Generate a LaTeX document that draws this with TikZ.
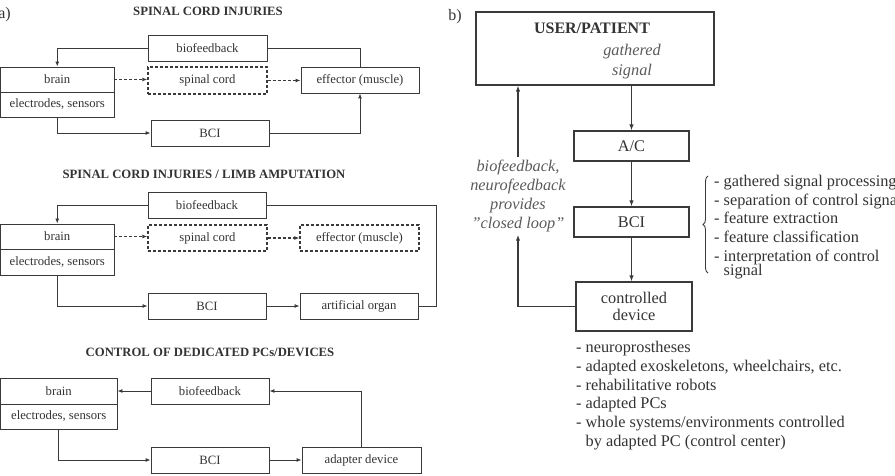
\documentclass[tikz,border=0pt]{standalone}
\usepackage{fontspec}
\setmainfont{Liberation Serif}
\usetikzlibrary{arrows.meta,decorations.pathreplacing}
\definecolor{ink}{HTML}{333333}
\definecolor{ln}{HTML}{3A3A3A}
\definecolor{itg}{HTML}{5A5A5A}
\tikzset{
  abox/.style={draw=ln, line width=0.9pt, inner sep=0pt, text=ink, font=\fontsize{12.7}{14}\selectfont},
  dbox/.style={abox, dash pattern=on 3pt off 2pt, line width=1.3pt},
  bbox/.style={draw=ln, line width=1.2pt, inner sep=0pt, text=ink, font=\fontsize{16.3}{19}\selectfont, align=center},
  ttl/.style={text=ink, font=\bfseries\fontsize{12.7}{14}\selectfont},
  arr/.style={draw=ln, line width=0.9pt, -{Latex[length=5pt,width=4pt]}},
  plain/.style={draw=ln, line width=0.9pt},
  darr/.style={draw=ln, line width=1.3pt, dash pattern=on 3pt off 2pt, -{Latex[length=5pt,width=4pt]}},
  arrb/.style={draw=ln, line width=1.2pt, -{Latex[length=6pt,width=4.5pt]}},
  lst/.style={text=ink, font=\fontsize{16.3}{18.8}\selectfont, inner sep=0pt},
}
\begin{document}
\begin{tikzpicture}[x=1pt,y=-1pt]
\useasboundingbox (0,0) rectangle (895,476);
\clip (0,0) rectangle (895,476);
% ---------- panel a labels ----------
\node[text=ink, font=\fontsize{16}{18}\selectfont, anchor=east, inner sep=0pt] (la) at (11,15) {a)};
\node[ttl] (t1) at (208,11) {SPINAL CORD INJURIES};
\node[ttl] (t2) at (204,174) {SPINAL CORD INJURIES / LIMB AMPUTATION};
\node[ttl] (t3) at (210,352) {CONTROL OF DEDICATED PCs/DEVICES};
% ---------- top ----------
\node[abox, minimum width=119pt, minimum height=26pt] (bf1) at (207.5,48) {biofeedback};
\node[abox, minimum width=113.5pt, minimum height=25pt] (br1) at (57.25,79.5) {brain};
\node[abox, minimum width=113.5pt, minimum height=25pt] (el1) at (57.25,104.5) {electrodes, sensors};
\node[dbox, minimum width=119pt, minimum height=27pt] (sc1) at (207.5,80.5) {spinal cord};
\node[abox, minimum width=118pt, minimum height=26pt] (ef1) at (360,80) {effector (muscle)};
\node[abox, minimum width=118pt, minimum height=26pt] (bci1) at (210,133) {BCI};
\draw[arr] (bf1.west) -| (br1.north);
\draw[plain] (bf1.east) -| (ef1.north);
\draw[darr] (br1.east) -- (br1.east -| sc1.west);
\draw[darr] (sc1.east) -- (sc1.east -| ef1.west);
\draw[arr] (el1.south) |- (bci1.west);
\draw[arr] (bci1.east) -| (ef1.south);
% ---------- middle ----------
\node[abox, minimum width=118pt, minimum height=26pt] (bf2) at (207,205) {biofeedback};
\node[abox, minimum width=113.5pt, minimum height=25pt] (br2) at (57.25,236.5) {brain};
\node[abox, minimum width=113.5pt, minimum height=26pt] (el2) at (57.25,262) {electrodes, sensors};
\node[dbox, minimum width=119pt, minimum height=26pt] (sc2) at (207.5,238) {spinal cord};
\node[dbox, minimum width=119pt, minimum height=26pt] (ef2) at (359.5,238) {effector (muscle)};
\node[abox, minimum width=118pt, minimum height=26pt] (bci2) at (207,306) {BCI};
\node[abox, minimum width=118pt, minimum height=26pt] (ao2) at (359,306) {artificial organ};
\coordinate (c2) at (436,0);
\draw[arr] (bf2.west) -| (br2.north);
\draw[plain] (bf2.east) -- (bf2.east -| c2) |- (ao2.east);
\draw[darr] (br2.east) -- (br2.east -| sc2.west);
\draw[darr] (sc2.east) -- (sc2.east -| ef2.west);
\draw[arr] (el2.south) |- (bci2.west);
\draw[arr] (bci2.east) -- (ao2.west);
% ---------- bottom ----------
\node[abox, minimum width=116.5pt, minimum height=26pt] (br3) at (58.75,391) {brain};
\node[abox, minimum width=116.5pt, minimum height=25pt] (el3) at (58.75,416.5) {electrodes, sensors};
\node[abox, minimum width=118pt, minimum height=26pt] (bf3) at (210,391) {biofeedback};
\node[abox, minimum width=118pt, minimum height=26pt] (bci3) at (210,460) {BCI};
\node[abox, minimum width=119pt, minimum height=26pt] (ad3) at (361.5,460) {adapter device};
\draw[arr] (bf3.west) -- (br3.east);
\draw[arr] (ad3.north) |- (bf3.east);
\draw[arr] (el3.south) |- (bci3.west);
\draw[arr] (bci3.east) -- (ad3.west);
% ---------- panel b ----------
\node[text=ink, font=\fontsize{16}{18}\selectfont, inner sep=0pt] (lb2) at (455,17) {b)};
\node[bbox, minimum width=238pt, minimum height=73pt] (user) at (595,48.5) {};
\node[text=ink, font=\bfseries\fontsize{16}{18}\selectfont, inner sep=0pt] (ut) at (592,28) {USER/PATIENT};
\node[text=itg, font=\itshape\fontsize{16.3}{20}\selectfont, align=center, inner sep=0pt] (gs) at (632,62) {gathered\\signal};
\node[bbox, minimum width=115pt, minimum height=30pt] (ac) at (631.5,146) {A/C};
\node[bbox, minimum width=115pt, minimum height=30pt] (bcib) at (631.5,222) {BCI};
\node[bbox, minimum width=116pt, minimum height=49pt] (cd) at (634,306.5) {controlled\\[-2pt]device};
\node[text=itg, font=\itshape\fontsize{16.3}{18.7}\selectfont, align=center, inner sep=3pt] (lp) at (518,196) {biofeedback,\\neurofeedback\\provides\\''closed loop''};
\draw[arrb] (ac.north |- user.south) -- (ac.north);
\draw[arrb] (ac.south) -- (bcib.north);
\draw[arrb] (bcib.south) -- (bcib.south |- cd.north);
\draw[arrb] (cd.west) -| (lp.south);
\draw[arrb] (lp.north) -- (lp.north |- user.south);
\draw[draw=ln, line width=0.9pt, decorate, decoration={brace, amplitude=5pt}] (708,273) -- (708,176);
\node[lst, anchor=base west] (i1) at (714,187) {- gathered signal processing};
\node[lst, anchor=base west] (i2) at (714,205) {- separation of control signal};
\node[lst, anchor=base west] (i3) at (714,223) {- feature extraction};
\node[lst, anchor=base west] (i4) at (714,242) {- feature classification};
\node[lst, anchor=base west] (i5) at (714,261) {- interpretation of control};
\node[lst, anchor=base west] (i6) at (714,276) {\hphantom{- }signal};
\node[lst, anchor=north west, align=left] (dl) at (576,341) {- neuroprostheses\\- adapted exoskeletons, wheelchairs, etc.\\- rehabilitative robots\\- adapted PCs\\- whole systems/environments controlled\\\hphantom{- }by adapted PC (control center)};
\end{tikzpicture}
\end{document}
